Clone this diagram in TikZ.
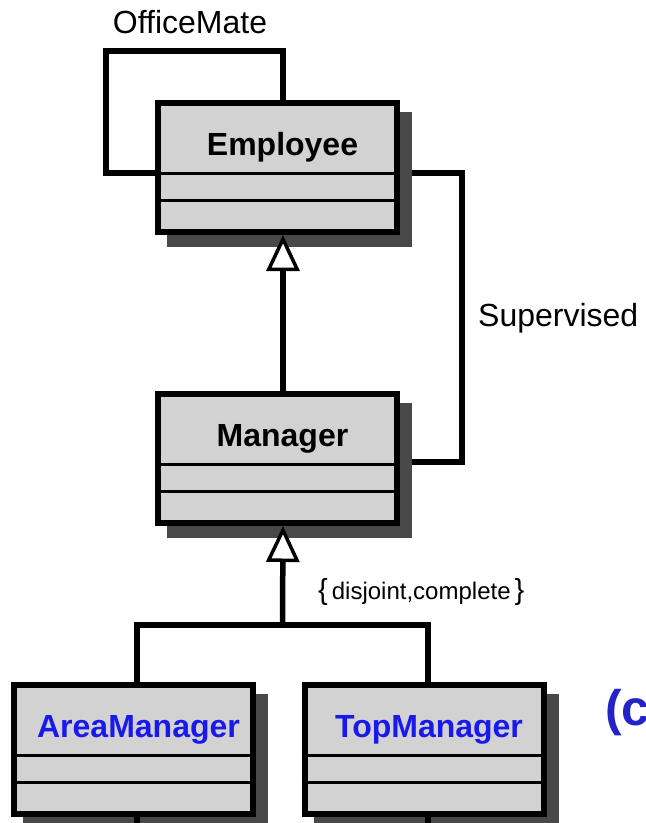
\documentclass[tikz,border=0pt]{standalone}
\usepackage{fontspec}
\setmainfont{Liberation Sans}
\usetikzlibrary{arrows.meta,shadows,backgrounds}
\definecolor{boxgray}{RGB}{210,210,210}
\definecolor{shadowgray}{RGB}{72,72,72}
\definecolor{nameblue}{RGB}{25,25,235}
\definecolor{tagblue}{RGB}{35,35,200}
\tikzset{
  classbox/.style={draw, line width=6pt, fill=boxgray, minimum width=239pt, inner sep=0pt,
    text height=52pt, text depth=77pt, font=\fontsize{32}{38}\selectfont\bfseries,
    execute at begin node={\hspace*{10pt}},
    general shadow={shadow xshift=12pt, shadow yshift=-12pt, fill=shadowgray, draw=shadowgray, line width=6pt}},
  compline/.style={line width=3pt},
  assoc/.style={line width=5.5pt},
  gen/.style={line width=5.5pt, -{Triangle[fill=white, length=36pt, width=33pt, line width=3.5pt]}},
  tag/.style={font=\fontsize{32}{38}\selectfont, inner sep=0pt}
}
\begin{document}
\begin{tikzpicture}[x=1pt,y=-1pt]
  \useasboundingbox (0,0) rectangle (646,823);
  \clip (0,0) rectangle (646,823);
  % classes
  \node[classbox] (emp) at (277.5,167.5) {Employee};
  \node[classbox] (mgr) at (277.5,458.5) {Manager};
  \node[classbox,text=nameblue] (area) at (133.5,749.5) {AreaManager};
  \node[classbox,text=nameblue] (topm) at (424,749.5) {TopManager};
  \foreach \c in {emp,mgr,area,topm}
    \foreach \d in {73,100}
      \draw[compline] ([yshift=-\d pt]\c.north west) -- ([yshift=-\d pt]\c.north east);
  % associations
  \coordinate (om) at (106,51);
  \coordinate (sv) at (462,318);
  \coordinate (split) at (282.5,625);
  \begin{scope}[on background layer]
    \draw[assoc] ([xshift=5.5pt]emp.north) |- (om) |- ([yshift=-5.5pt]emp.west);
    \draw[assoc] ([yshift=-5.5pt]emp.east) -| (sv) |- ([yshift=-3.5pt]mgr.east);
    \draw[assoc] ([xshift=3.5pt]area.north) |- (split) -| ([xshift=4pt]topm.north);
  \end{scope}
  \node[tag] (omlabel) at (190,22) {OfficeMate};
  \node[tag,anchor=west] (svlabel) at (478,318) {Supervised};
  \node[tag,anchor=west,font=\fontsize{24}{29}\selectfont] (dc) at (318,592)
    {{\fontsize{29}{30}\selectfont\{}\,disjoint,complete\,{\fontsize{29}{30}\selectfont\}}};
  % generalisations
  \draw[gen] ([xshift=5.5pt]mgr.north) -- ([xshift=5.5pt]emp.south);
  \draw[gen] (split) -- ([xshift=5.5pt]mgr.south);
  \draw[assoc] ([xshift=3.5pt]area.south) -- ++(0,20);
  \draw[assoc] ([xshift=4pt]topm.south) -- ++(0,20);
  \node[font=\fontsize{50}{60}\selectfont\bfseries,text=tagblue,anchor=base west,inner sep=0pt] (part) at (605,725) {(c};
\end{tikzpicture}
\end{document}
